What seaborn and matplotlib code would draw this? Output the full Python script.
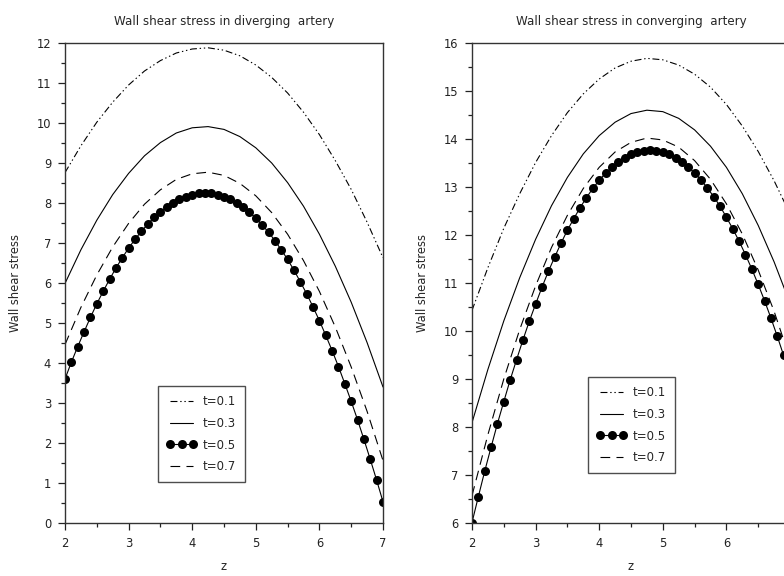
import matplotlib
matplotlib.use("Agg")
import matplotlib.pyplot as plt
from matplotlib.ticker import MultipleLocator, FixedLocator
import seaborn as sns

# ---- data ----
z_fine = [2.0, 2.1, 2.2, 2.3, 2.4, 2.5, 2.6, 2.7, 2.8, 2.9, 3.0, 3.1, 3.2, 3.3, 3.4,
          3.5, 3.6, 3.7, 3.8, 3.9, 4.0, 4.1, 4.2, 4.3, 4.4, 4.5, 4.6, 4.7, 4.8, 4.9,
          5.0, 5.1, 5.2, 5.3, 5.4, 5.5, 5.6, 5.7, 5.8, 5.9, 6.0, 6.1, 6.2, 6.3, 6.4,
          6.5, 6.6, 6.7, 6.8, 6.9, 7.0]
z_coarse = [2.0, 2.25, 2.5, 2.75, 3.0, 3.25, 3.5, 3.75, 4.0, 4.25, 4.5, 4.75, 5.0,
            5.25, 5.5, 5.75, 6.0, 6.25, 6.5, 6.75, 7.0]

# diverging artery
div_t01 = [8.76, 9.43, 10.02, 10.52, 10.95, 11.30, 11.56, 11.75, 11.85, 11.88, 11.82,
           11.68, 11.45, 11.14, 10.75, 10.27, 9.71, 9.06, 8.34, 7.52, 6.63]
div_t03 = [5.99, 6.83, 7.57, 8.21, 8.74, 9.18, 9.51, 9.75, 9.88, 9.91, 9.84, 9.66,
           9.38, 9.00, 8.51, 7.92, 7.22, 6.42, 5.52, 4.51, 3.40]
div_t05 = [3.60, 4.02, 4.41, 4.78, 5.14, 5.48, 5.79, 6.09, 6.37, 6.63, 6.87, 7.09,
           7.29, 7.47, 7.64, 7.78, 7.90, 8.01, 8.10, 8.16, 8.21, 8.24, 8.25, 8.24,
           8.21, 8.16, 8.09, 8.00, 7.90, 7.77, 7.62, 7.45, 7.27, 7.06, 6.83, 6.59,
           6.32, 6.03, 5.73, 5.40, 5.06, 4.69, 4.31, 3.91, 3.48, 3.04, 2.58, 2.09,
           1.59, 1.07, 0.53]
div_t07 = [4.46, 5.39, 6.20, 6.90, 7.49, 7.97, 8.33, 8.59, 8.73, 8.77, 8.69, 8.49,
           8.18, 7.76, 7.22, 6.56, 5.79, 4.90, 3.90, 2.79, 1.56]

# converging artery
con_t01 = [10.43, 11.32, 12.14, 12.86, 13.51, 14.07, 14.55, 14.94, 15.25, 15.48, 15.62,
           15.68, 15.65, 15.54, 15.35, 15.08, 14.72, 14.27, 13.74, 13.13, 12.44]
con_t03 = [8.09, 9.20, 10.21, 11.11, 11.91, 12.61, 13.20, 13.69, 14.07, 14.35, 14.53,
           14.60, 14.57, 14.43, 14.19, 13.85, 13.41, 12.86, 12.20, 11.44, 10.58]
con_t05 = [6.01, 6.55, 7.08, 7.58, 8.07, 8.53, 8.98, 9.40, 9.81, 10.20, 10.56, 10.91,
           11.24, 11.54, 11.83, 12.10, 12.34, 12.57, 12.78, 12.97, 13.14, 13.29, 13.41,
           13.52, 13.61, 13.68, 13.73, 13.76, 13.77, 13.76, 13.73, 13.68, 13.61, 13.53,
           13.42, 13.29, 13.15, 12.98, 12.80, 12.60, 12.37, 12.13, 11.87, 11.59, 11.29,
           10.97, 10.63, 10.27, 9.89, 9.49, 9.08]
con_t07 = [6.57, 7.84, 9.00, 10.03, 10.94, 11.74, 12.41, 12.97, 13.41, 13.73, 13.93,
           14.02, 13.98, 13.83, 13.55, 13.16, 12.65, 12.02, 11.27, 10.41, 9.42]

labels = ["t=0.1", "t=0.3", "t=0.5", "t=0.7"]
titles = ["Wall shear stress in diverging  artery", "Wall shear stress in converging  artery"]
x_label = "z"
y_label = "Wall shear stress"
left_xticks = [2, 3, 4, 5, 6, 7]
right_xticks = [2, 3, 4, 5, 6]

# ---- style ----
sns.set_style("white")
plt.rcParams["font.family"] = ["DejaVu Sans"]
plt.rcParams["lines.scale_dashes"] = False

W, H = 784, 576
fig = plt.figure(figsize=(W / 100, H / 100), dpi=100)

def px_axes(x0, x1, y0, y1):
    return fig.add_axes([x0 / W, 1 - y1 / H, (x1 - x0) / W, (y1 - y0) / H])

ax1 = px_axes(65, 383, 43, 523)
ax2 = px_axes(472, 790, 43, 523)

dashdotdot = (0, (5, 2, 1, 2, 1, 2))
dashed = (0, (7, 4.5))

def draw(ax, t01, t03, t05, t07, ylim, title, leg_xy, xticks):
    lw = 0.8
    sns.lineplot(x=z_coarse, y=t01, ax=ax, color="black", lw=lw, linestyle=dashdotdot,
                 label=labels[0], legend=False)
    sns.lineplot(x=z_coarse, y=t03, ax=ax, color="black", lw=lw, linestyle="-",
                 label=labels[1], legend=False)
    sns.lineplot(x=z_fine, y=t05, ax=ax, color="black", lw=lw, linestyle="-",
                 marker="o", markersize=6.5, markeredgewidth=0, label=labels[2], legend=False)
    sns.lineplot(x=z_coarse, y=t07, ax=ax, color="black", lw=lw, linestyle=dashed,
                 label=labels[3], legend=False)
    ax.set_xlim(2, 7)
    ax.set_ylim(*ylim)
    ax.xaxis.set_major_locator(FixedLocator(xticks))
    ax.xaxis.set_minor_locator(MultipleLocator(0.5))
    ax.yaxis.set_major_locator(MultipleLocator(1))
    ax.yaxis.set_minor_locator(MultipleLocator(0.5))
    ax.tick_params(which="both", direction="out", bottom=True, left=True,
                   top=False, right=False, colors="#222222", labelsize=8.3, width=0.9)
    ax.tick_params(which="major", length=5, pad=5)
    ax.tick_params(which="minor", length=3)
    for s in ax.spines.values():
        s.set_color("#333333")
        s.set_linewidth(1.0)
    ax.set_title(title, fontsize=8.6, pad=13)
    ax.set_xlabel(x_label, fontsize=8.3)
    ax.set_ylabel(y_label, fontsize=8.3)
    ax.xaxis.set_label_coords(0.5, -0.078)
    ax.yaxis.set_label_coords(-0.134, 0.5)
    handles, labs = ax.get_legend_handles_labels()
    leg = ax.legend(handles, labs, loc="upper left",
                    bbox_to_anchor=(leg_xy[0] / W, 1 - leg_xy[1] / H),
                    bbox_transform=fig.transFigure, borderaxespad=0,
                    fontsize=8.5, frameon=True, fancybox=False, shadow=False,
                    handlelength=2.5, handletextpad=0.55, labelspacing=0.75,
                    borderpad=0.75, numpoints=3, markerscale=1.0)
    leg.get_frame().set_edgecolor("#222222")
    leg.get_frame().set_linewidth(1.0)

draw(ax1, div_t01, div_t03, div_t05, div_t07, (0, 12), titles[0], (158, 386), left_xticks)
draw(ax2, con_t01, con_t03, con_t05, con_t07, (6, 16), titles[1], (588, 377), right_xticks)

fig.savefig("out.png", dpi=100)
